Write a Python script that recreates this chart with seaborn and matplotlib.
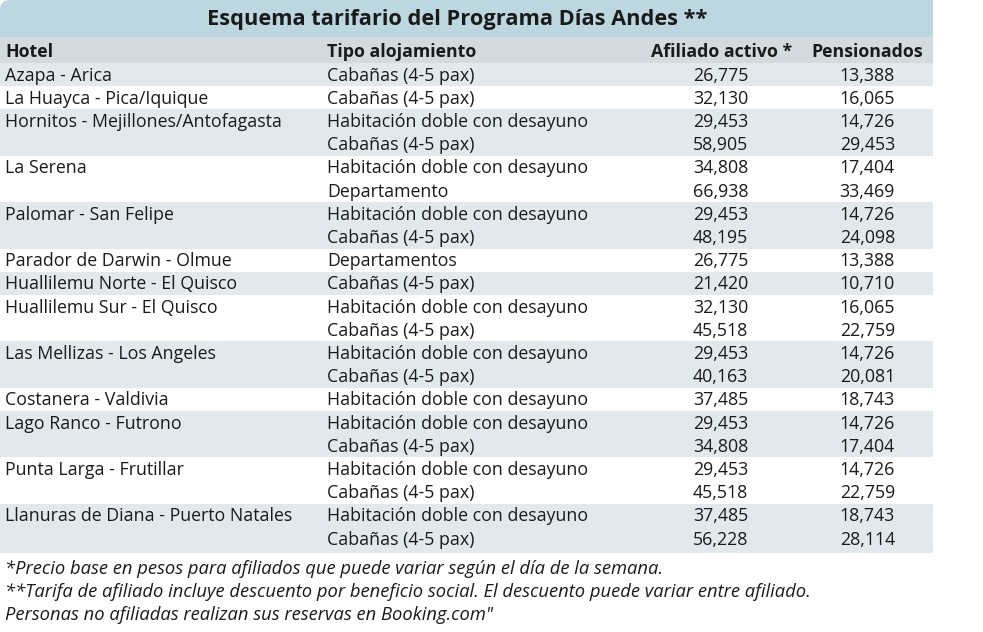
import matplotlib
matplotlib.use("Agg")
import matplotlib.pyplot as plt
import seaborn as sns
from matplotlib.patches import FancyBboxPatch, Rectangle

# table content
title = "Esquema tarifario del Programa Días Andes **"
headers = ["Hotel", "Tipo alojamiento", "Afiliado activo *", "Pensionados"]

hotels = ["Azapa - Arica", "La Huayca - Pica/Iquique",
          "Hornitos - Mejillones/Antofagasta", "",
          "La Serena", "",
          "Palomar - San Felipe", "",
          "Parador de Darwin - Olmue",
          "Huallilemu Norte - El Quisco",
          "Huallilemu Sur - El Quisco", "",
          "Las Mellizas - Los Angeles", "",
          "Costanera - Valdivia",
          "Lago Ranco - Futrono", "",
          "Punta Larga - Frutillar", "",
          "Llanuras de Diana - Puerto Natales", ""]

tipos = ["Cabañas (4-5 pax)", "Cabañas (4-5 pax)",
         "Habitación doble con desayuno", "Cabañas (4-5 pax)",
         "Habitación doble con desayuno", "Departamento",
         "Habitación doble con desayuno", "Cabañas (4-5 pax)",
         "Departamentos",
         "Cabañas (4-5 pax)",
         "Habitación doble con desayuno", "Cabañas (4-5 pax)",
         "Habitación doble con desayuno", "Cabañas (4-5 pax)",
         "Habitación doble con desayuno",
         "Habitación doble con desayuno", "Cabañas (4-5 pax)",
         "Habitación doble con desayuno", "Cabañas (4-5 pax)",
         "Habitación doble con desayuno", "Cabañas (4-5 pax)"]

afiliado = [26775, 32130, 29453, 58905, 34808, 66938, 29453, 48195, 26775,
            21420, 32130, 45518, 29453, 40163, 37485, 29453, 34808, 29453,
            45518, 37485, 56228]
pensionados = [13388, 16065, 14726, 29453, 17404, 33469, 14726, 24098, 13388,
               10710, 16065, 22759, 14726, 20081, 18743, 14726, 17404, 14726,
               22759, 18743, 28114]

notes = ["*Precio base en pesos para afiliados que puede variar según el día de la semana.",
         "**Tarifa de afiliado incluye descuento por beneficio social. El descuento puede variar entre afiliado.",
         "Personas no afiliadas realizan sus reservas en Booking.com\""]

# layout (pixel units of the 983x632 picture)
W, H = 983, 632
table_right = 933
title_bottom = 37
header_bottom = 63
row_h = 23.2
band_end = 553
col_x = [5, 327, 748, 895]

title_col = "#bdd7e1"
header_col = "#d4dbde"
shade_col = "#e2e9ec"
ink = "#1a1a1a"

sns.set_theme(style="white")
plt.rcParams["font.family"] = ["Open Sans", "DejaVu Sans"]

fig = plt.figure(figsize=(W / 100, H / 100), dpi=100)
ax = fig.add_axes([0, 0, 1, 1])
ax.set_xlim(0, W)
ax.set_ylim(H, 0)
ax.axis("off")

# title band with rounded top-left corner
ax.add_patch(FancyBboxPatch((0, 0), table_right, title_bottom + 10,
                            boxstyle="round,pad=0,rounding_size=10",
                            fc=title_col, ec="none"))
ax.add_patch(Rectangle((table_right / 2, 0), table_right / 2, title_bottom,
                       fc=title_col, ec="none"))
ax.add_patch(Rectangle((0, title_bottom), table_right, header_bottom - title_bottom,
                       fc=header_col, ec="none"))
ax.text(table_right / 2 - 9, 20, title, ha="center", va="center",
        fontsize=15.7, fontweight="bold", color=ink)

# header row
hy = 52
hfs = 12.8
ax.text(col_x[0], hy, headers[0], ha="left", va="center", fontsize=hfs,
        fontweight="bold", color=ink)
ax.text(col_x[1], hy, headers[1], ha="left", va="center", fontsize=hfs,
        fontweight="bold", color=ink)
ax.text(col_x[2] + 44, hy, headers[2], ha="right", va="center", fontsize=hfs,
        fontweight="bold", color=ink)
ax.text(col_x[3] + 28, hy, headers[3], ha="right", va="center", fontsize=hfs,
        fontweight="bold", color=ink)

# alternate shading per hotel group
n = len(hotels)
starts = [i for i, h in enumerate(hotels) if h]
for g, s in enumerate(starts):
    e = starts[g + 1] if g + 1 < len(starts) else n
    if g % 2 == 0:
        top = header_bottom + s * row_h
        bottom = header_bottom + e * row_h if e < n else band_end
        ax.axhspan(bottom, top, xmin=0, xmax=table_right / W, fc=shade_col, ec="none")

fs = 12.8
for i in range(n):
    y = header_bottom + (i + 0.5) * row_h + 1
    ax.text(col_x[0], y, hotels[i], ha="left", va="center", fontsize=fs, color=ink)
    ax.text(col_x[1], y, tipos[i], ha="left", va="center", fontsize=fs, color=ink)
    ax.text(col_x[2], y, f"{afiliado[i]:,}", ha="right", va="center",
            fontsize=fs, color=ink)
    ax.text(col_x[3], y, f"{pensionados[i]:,}", ha="right", va="center",
            fontsize=fs, color=ink)

for j, note in enumerate(notes):
    ax.text(col_x[0], 569 + j * 23, note, ha="left", va="center", fontsize=13.2,
            style="italic", color=ink)

fig.savefig("out.png", dpi=100, facecolor="white")
